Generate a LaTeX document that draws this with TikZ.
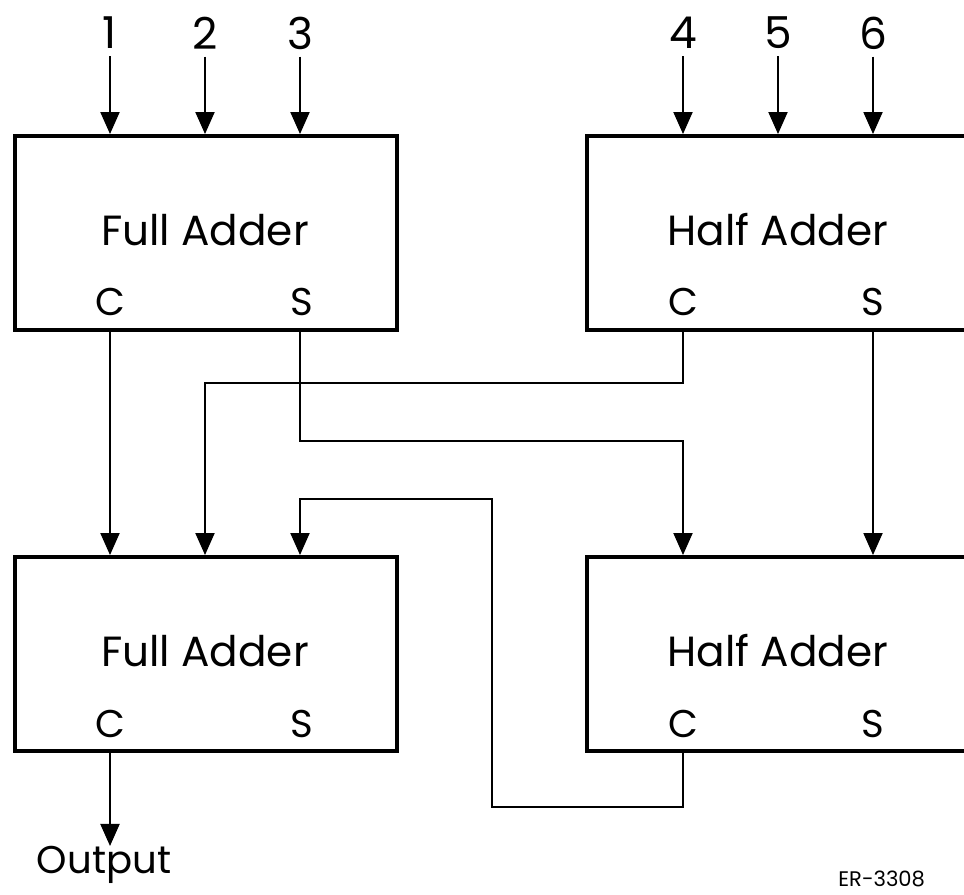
\documentclass[tikz,border=0pt]{standalone}
\usepackage{fontspec}
\setmainfont{Poppins}
\usetikzlibrary{arrows.meta}

\begin{document}
\begin{tikzpicture}[
  adder/.style={draw, line width=2.2pt, minimum width=7.64cm, minimum height=3.88cm, inner sep=0pt},
  halfadder/.style={adder, minimum width=9cm},
  wire/.style={line width=1.1pt},
  sig/.style={wire, -{Triangle[width=0.38cm,length=0.44cm]}},
  lbl/.style={font=\fontsize{22}{26}\selectfont, inner sep=0pt},
  title/.style={font=\fontsize{24}{28}\selectfont, inner sep=0pt},
  digit/.style={font=\fontsize{25}{29}\selectfont, inner sep=4pt}
]
\useasboundingbox (0,0) rectangle (19.28,17.9);

% the four adders
\node[adder] (fa1) at (4.12,13.24) {};
\node[halfadder] (ha1) at (16.24,13.24) {};
\node[adder] (fa2) at (4.12,4.82) {};
\node[halfadder] (ha2) at (16.24,4.82) {};

\node[title] (fa1name) at (4.1,13.3) {Full Adder};
\node[title] (ha1name) at (15.56,13.3) {Half Adder};
\node[title] (fa2name) at (4.1,4.88) {Full Adder};
\node[title] (ha2name) at (15.56,4.88) {Half Adder};

\node[lbl] (fa1c) at (2.2,11.86) {C};
\node[lbl] (fa1s) at (6.04,11.86) {S};
\node[lbl] (ha1c) at (13.66,11.86) {C};
\node[lbl] (ha1s) at (17.46,11.86) {S};
\node[lbl] (fa2c) at (2.2,3.42) {C};
\node[lbl] (fa2s) at (6.04,3.42) {S};
\node[lbl] (ha2c) at (13.66,3.42) {C};
\node[lbl] (ha2s) at (17.46,3.42) {S};

% inputs
\node[digit] (in1) at (2.2,17.24) {1};
\node[digit] (in2) at (4.1,17.24) {2};
\node[digit] (in3) at (6.0,17.24) {3};
\node[digit] (in4) at (13.66,17.24) {4};
\node[digit] (in5) at (15.56,17.24) {5};
\node[digit] (in6) at (17.46,17.24) {6};

\draw[sig] (in1) -- (in1 |- fa1.north);
\draw[sig] (in2) -- (in2 |- fa1.north);
\draw[sig] (in3) -- (in3 |- fa1.north);
\draw[sig] (in4) -- (in4 |- ha1.north);
\draw[sig] (in5) -- (in5 |- ha1.north);
\draw[sig] (in6) -- (in6 |- ha1.north);

% connections between the stages
\draw[sig] (fa1c |- fa1.south) -- (fa1c |- fa2.north);
\draw[sig] (ha1c |- ha1.south) -- (ha1c |- 0,10.24) -| (in2 |- fa2.north);
\draw[sig] (in3 |- fa1.south) -- (in3 |- 0,9.08) -| (in4 |- ha2.north);
\draw[sig] (ha1s |- ha1.south) -- (ha1s |- ha2.north);
\draw[sig] (ha2c |- ha2.south) -- (ha2c |- 0,1.76) -| (9.84,7.92) -| (in3 |- fa2.north);

% output
\node[lbl, anchor=north] (out) at (2.08,0.98) {Output};
\draw[sig] (fa2c |- fa2.south) -- (fa2c |- out.north);

\node[anchor=south west, font=\fontsize{12}{14}\selectfont, inner sep=0pt] (fig) at (16.76,0.16) {ER-3308};
\end{tikzpicture}
\end{document}
